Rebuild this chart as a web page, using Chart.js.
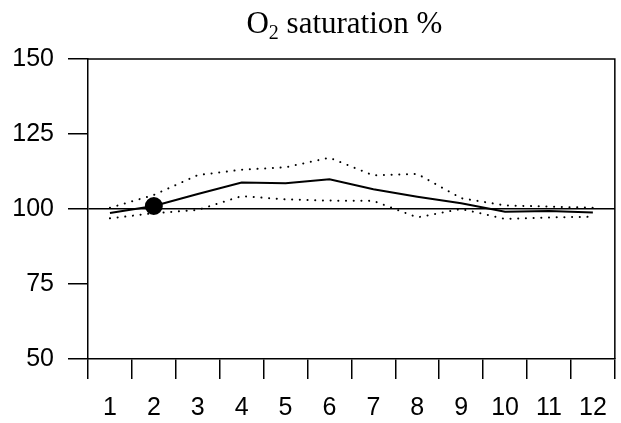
<!DOCTYPE html>
<html>
<head>
<meta charset="utf-8">
<script src="https://cdn.jsdelivr.net/npm/chart.js@4"></script>
<style>
  html, body { margin: 0; padding: 0; background: #fff; }
  #wrap { width: 621px; height: 423px; }
</style>
</head>
<body>
<div id="wrap"><canvas id="chartO2"></canvas></div>
<script>
var hours = ['1', '2', '3', '4', '5', '6', '7', '8', '9', '10', '11', '12']
var meanSat = [98.7, 101, 105, 108.8, 108.6, 109.9, 106.6, 104.1, 101.9, 99.1, 99.3, 98.8]
var upperSat = [100.4, 104.7, 111.3, 113.1, 113.9, 117.1, 111.2, 111.7, 103.6, 101.2, 100.8, 100.4]
var lowerSat = [96.9, 98.6, 99.7, 104.3, 103.2, 102.8, 102.7, 97.2, 100, 96.7, 97.2, 97.4]
var markedIndex = 1
var yTicks = [50, 75, 100, 125, 150]
var refValue = 100

// box round the plot + O2 title with a real subscript
const framePlugin = {
    id: 'frame',
    afterDraw(chart) {
        const ctx = chart.ctx;
        const a = chart.chartArea;
        ctx.save();
        ctx.strokeStyle = '#000';
        ctx.lineWidth = 1.5;
        ctx.beginPath();
        ctx.moveTo(a.left, a.top);
        ctx.lineTo(a.right, a.top);
        ctx.lineTo(a.right, a.bottom);
        ctx.stroke();

        ctx.fillStyle = '#000';
        ctx.textBaseline = 'alphabetic';
        const big = '31px "Liberation Serif"';
        const small = '20px "Liberation Serif"';
        const main = 'O';
        const rest = ' saturation %';
        ctx.font = big;
        const wO = ctx.measureText(main).width;
        const wR = ctx.measureText(rest).width;
        ctx.font = small;
        const w2 = ctx.measureText('2').width;
        const total = wO + w2 + wR;
        let x = (a.left + a.right) / 2 - 7 - total / 2;
        const base = 33;
        ctx.font = big;
        ctx.fillText(main, x, base);
        x += wO;
        ctx.font = small;
        ctx.fillText('2', x, base + 6);
        x += w2;
        ctx.font = big;
        ctx.fillText(rest, x, base);
        ctx.restore();
    }
};

const ctx = document.getElementById('chartO2').getContext('2d');
const chartO2 = new Chart(ctx, {
    type: 'line',
    data: {
        labels: hours,
        datasets: [{
            label: 'Mean',
            data: meanSat,
            borderColor: '#000',
            backgroundColor: '#000',
            borderWidth: 2,
            tension: 0,
            pointRadius: (c) => c.dataIndex === markedIndex ? 8 : 0,
            pointHoverRadius: 0
        }, {
            label: 'Upper',
            data: upperSat,
            borderColor: '#000',
            borderWidth: 2,
            borderDash: [0.1, 7.6],
            borderCapStyle: 'round',
            tension: 0,
            pointRadius: 0
        }, {
            label: 'Lower',
            data: lowerSat,
            borderColor: '#000',
            borderWidth: 2,
            borderDash: [0.1, 7.6],
            borderCapStyle: 'round',
            tension: 0,
            pointRadius: 0
        }]
    },
    options: {
        responsive: true,
        maintainAspectRatio: false,
        animation: false,
        events: [],
        layout: { padding: { top: 59, right: 5, left: 0, bottom: 0 } },
        plugins: {
            legend: { display: false },
            title: { display: false },
            tooltip: { enabled: false }
        },
        scales: {
            x: {
                type: 'category',
                offset: true,
                grid: {
                    offset: true,
                    drawOnChartArea: false,
                    tickLength: 20,
                    color: (c) => c.index >= hours.length ? 'rgba(0,0,0,0)' : '#000',
                    lineWidth: 1.5
                },
                border: { display: true, color: '#000', width: 1.5 },
                ticks: {
                    color: '#000',
                    padding: 14,
                    maxRotation: 0,
                    font: { family: 'Liberation Sans', size: 25 }
                },
                afterFit(scale) { scale.height = 64; }
            },
            y: {
                min: 50,
                max: 150,
                afterBuildTicks(scale) { scale.ticks = yTicks.map(v => ({ value: v })); },
                grid: {
                    drawOnChartArea: true,
                    tickLength: 20,
                    color: (c) => c.tick && c.tick.value === refValue ? '#000' : 'rgba(0,0,0,0)',
                    tickColor: '#000',
                    lineWidth: 1.5
                },
                border: { display: true, color: '#000', width: 1.5 },
                ticks: {
                    color: '#000',
                    padding: 14,
                    font: { family: 'Liberation Sans', size: 25 }
                },
                afterFit(scale) { scale.width = 88; }
            }
        }
    },
    plugins: [framePlugin]
});
</script>
</body>
</html>
